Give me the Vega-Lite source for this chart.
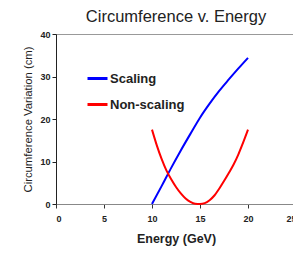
{
  "$schema": "https://vega.github.io/schema/vega-lite/v6.json",
  "width": 240,
  "height": 170,
  "autosize": "none",
  "padding": {"left": 56, "top": 34, "right": 0, "bottom": 54},
  "background": "white",
  "title": {"text": "Circumference v. Energy", "font": "Liberation Sans", "fontSize": 16.5, "fontWeight": "normal", "color": "#222", "offset": 5, "anchor": "middle"},
  "config": {
    "view": {"stroke": "#999", "strokeWidth": 1},
    "font": "Liberation Sans"
  },
  "data": {"values": [
    {"energy": 10, "circ": 0, "series": "Scaling"},
    {"energy": 11, "circ": 4.2, "series": "Scaling"},
    {"energy": 12, "circ": 8.5, "series": "Scaling"},
    {"energy": 13, "circ": 12.6, "series": "Scaling"},
    {"energy": 14, "circ": 16.5, "series": "Scaling"},
    {"energy": 15, "circ": 20.3, "series": "Scaling"},
    {"energy": 16, "circ": 23.6, "series": "Scaling"},
    {"energy": 17, "circ": 26.6, "series": "Scaling"},
    {"energy": 18, "circ": 29.3, "series": "Scaling"},
    {"energy": 19, "circ": 31.9, "series": "Scaling"},
    {"energy": 20, "circ": 34.4, "series": "Scaling"},
    {"energy": 10, "circ": 17.5, "series": "Non-scaling"},
    {"energy": 10.5, "circ": 13.8, "series": "Non-scaling"},
    {"energy": 11, "circ": 10.6, "series": "Non-scaling"},
    {"energy": 11.5, "circ": 7.9, "series": "Non-scaling"},
    {"energy": 12, "circ": 5.8, "series": "Non-scaling"},
    {"energy": 12.5, "circ": 4.0, "series": "Non-scaling"},
    {"energy": 13, "circ": 2.5, "series": "Non-scaling"},
    {"energy": 13.5, "circ": 1.3, "series": "Non-scaling"},
    {"energy": 14, "circ": 0.5, "series": "Non-scaling"},
    {"energy": 14.5, "circ": 0.05, "series": "Non-scaling"},
    {"energy": 15, "circ": 0, "series": "Non-scaling"},
    {"energy": 15.5, "circ": 0.2, "series": "Non-scaling"},
    {"energy": 16, "circ": 0.9, "series": "Non-scaling"},
    {"energy": 16.5, "circ": 2.0, "series": "Non-scaling"},
    {"energy": 17, "circ": 3.6, "series": "Non-scaling"},
    {"energy": 17.5, "circ": 5.4, "series": "Non-scaling"},
    {"energy": 18, "circ": 7.3, "series": "Non-scaling"},
    {"energy": 18.5, "circ": 9.3, "series": "Non-scaling"},
    {"energy": 19, "circ": 11.7, "series": "Non-scaling"},
    {"energy": 19.5, "circ": 14.5, "series": "Non-scaling"},
    {"energy": 20, "circ": 17.5, "series": "Non-scaling"}
  ]},
  "mark": {"type": "line", "strokeWidth": 2, "interpolate": "monotone"},
  "encoding": {
    "x": {
      "field": "energy", "type": "quantitative",
      "scale": {"domain": [0, 25], "nice": false},
      "axis": {
        "title": "Energy (GeV)", "values": [0, 5, 10, 15, 20, 25],
        "grid": false, "domainColor": "#888", "tickColor": "#333", "tickSize": 4,
        "labelFont": "Liberation Sans", "labelFontSize": 9, "labelFontWeight": "bold", "labelColor": "#222", "labelPadding": 6,
        "titleFont": "Liberation Sans", "titleFontSize": 12.5, "titleFontWeight": "bold", "titleColor": "#222", "titlePadding": 9
      }
    },
    "y": {
      "field": "circ", "type": "quantitative",
      "scale": {"domain": [0, 40], "nice": false},
      "axis": {
        "title": "Circumference Variation  (cm)", "values": [0, 10, 20, 30, 40],
        "grid": false, "domainColor": "#222", "tickColor": "#222", "tickSize": 4,
        "labelFont": "Liberation Sans", "labelFontSize": 9, "labelFontWeight": "bold", "labelColor": "#222", "labelPadding": 2,
        "titleFont": "Liberation Sans", "titleFontSize": 11.3, "titleFontWeight": "normal", "titleColor": "#222", "titlePadding": 6
      }
    },
    "color": {
      "field": "series", "type": "nominal",
      "scale": {"domain": ["Scaling", "Non-scaling"], "range": ["#0000FF", "#FF0000"]},
      "legend": {
        "title": null, "orient": "none", "legendX": 30, "legendY": 33,
        "symbolType": "stroke", "symbolSize": 400, "symbolStrokeWidth": 3,
        "labelFont": "Liberation Sans", "labelFontSize": 13, "labelFontWeight": "bold", "labelColor": "#222",
        "labelOffset": 1, "rowPadding": 7, "padding": 0
      }
    }
  }
}
